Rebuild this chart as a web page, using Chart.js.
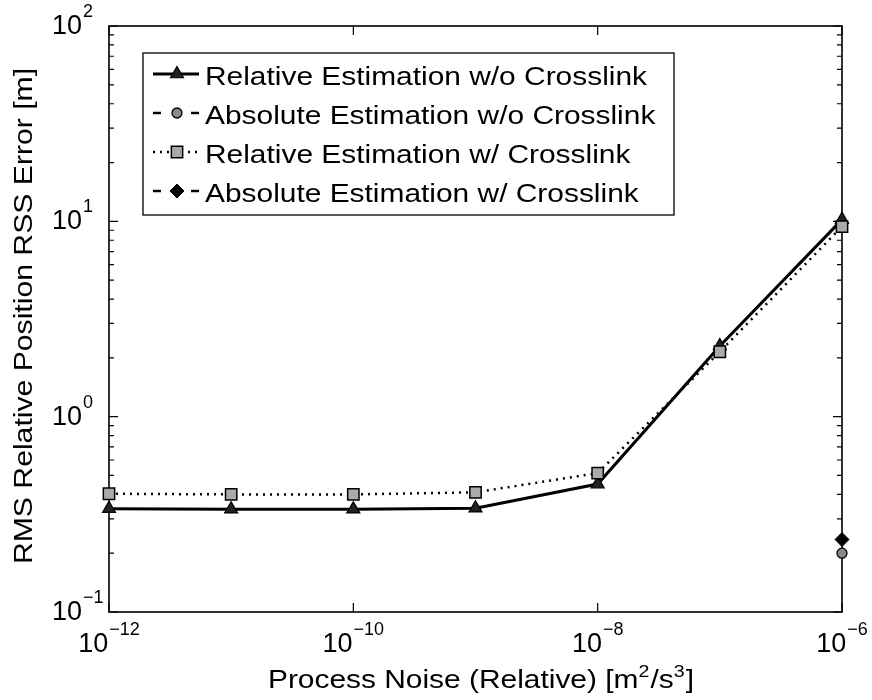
<!DOCTYPE html>
<html><head><meta charset="utf-8">
<script src="https://cdn.jsdelivr.net/npm/chart.js@4.4.1/dist/chart.umd.min.js"></script>
<style>html,body{margin:0;padding:0;background:#fff}canvas{display:block}</style>
</head><body>
<canvas id="c" width="872" height="700"></canvas>
<script>
// ---- data ----
const processNoise = [1e-12, 1e-11, 1e-10, 1e-9, 1e-8, 1e-7, 1e-6];
const relNoCross = [0.338, 0.336, 0.336, 0.340, 0.452, 2.30, 10.2];
const relCross   = [0.403, 0.400, 0.400, 0.410, 0.514, 2.15, 9.4];
const absNoCrossX = [1e-6];
const absNoCross  = [0.20];
const absCrossX = [1e-6];
const absCross  = [0.235];
const seriesLabels = [
  'Relative Estimation w/o Crosslink',
  'Absolute Estimation w/o Crosslink',
  'Relative Estimation w/ Crosslink',
  'Absolute Estimation w/ Crosslink'
];
const xTickExponents = [-12, -10, -8, -6];
const yTickExponents = [-1, 0, 1, 2];
const xTitleParts = [['Process Noise (Relative) [m', 0], ['2', 1], ['/s', 0], ['3', 1], [']', 0]];
const yTitle = 'RMS Relative Position RSS Error [m]';

const FONT = '"Liberation Sans", Arial, Helvetica, sans-serif';
const pts = (xs, ys) => xs.map((x, i) => ({x: x, y: ys[i]}));

const datasets = [
  { label: seriesLabels[0], data: pts(processNoise, relNoCross), showLine: true,
    borderColor: '#000', borderWidth: 3, pointStyle: 'triangle', pointRadius: 7.5,
    pointBackgroundColor: '#222', pointBorderColor: '#000', pointBorderWidth: 1.2, clip: false, order: 2 },
  { label: seriesLabels[1], data: pts(absNoCrossX, absNoCross), showLine: true, borderDash: [7, 5],
    borderColor: '#000', borderWidth: 2.5, pointStyle: 'circle', pointRadius: 5,
    pointBackgroundColor: '#888', pointBorderColor: '#000', pointBorderWidth: 1.3, clip: false, order: 1 },
  { label: seriesLabels[2], data: pts(processNoise, relCross), showLine: true, borderDash: [2, 5],
    borderColor: '#000', borderWidth: 2.5, pointStyle: 'rect', pointRadius: 8,
    pointBackgroundColor: '#aaa', pointBorderColor: '#000', pointBorderWidth: 1.5, clip: false, order: 1 },
  { label: seriesLabels[3], data: pts(absCrossX, absCross), showLine: true, borderDash: [7, 5],
    borderColor: '#000', borderWidth: 2.5, pointStyle: 'rectRot', pointRadius: 7,
    pointBackgroundColor: '#000', pointBorderColor: '#000', pointBorderWidth: 1, clip: false, order: 0 }
];

function drawPow(ctx, exp, x, y, align) {
  const base = '10';
  const sup = exp < 0 ? '\u2212' + Math.abs(exp) : String(exp);
  ctx.font = '27px ' + FONT;
  const wb = ctx.measureText(base).width;
  ctx.font = '18px ' + FONT;
  const ws = ctx.measureText(sup).width;
  const x0 = align === 'center' ? x - (wb + ws + 1) / 2 : x;
  ctx.textAlign = 'left';
  ctx.textBaseline = 'alphabetic';
  ctx.font = '27px ' + FONT;
  ctx.fillText(base, x0, y);
  ctx.font = '18px ' + FONT;
  ctx.fillText(sup, x0 + wb + 1, y - 17);
}

function drawMarker(ctx, ds, x, y) {
  ctx.save();
  ctx.fillStyle = ds.pointBackgroundColor;
  ctx.strokeStyle = ds.pointBorderColor;
  ctx.lineWidth = ds.pointBorderWidth;
  ctx.setLineDash([]);
  Chart.helpers.drawPoint(ctx, {pointStyle: ds.pointStyle, rotation: 0, radius: ds.pointRadius, borderWidth: ds.pointBorderWidth}, x, y);
  ctx.restore();
}

const framePlugin = {
  id: 'frame',
  beforeDatasetsDraw(chart) {
    const ctx = chart.ctx, a = chart.chartArea;
    const xs = chart.scales.x, ys = chart.scales.y;
    ctx.save();
    ctx.strokeStyle = '#000';
    ctx.lineWidth = 1.6;
    ctx.strokeRect(a.left, a.top, a.right - a.left, a.bottom - a.top);
    ctx.lineWidth = 1.2;
    ctx.beginPath();
    for (let e = -1; e <= 2; e++) {
      for (let m = 1; m <= 9; m++) {
        const v = m * Math.pow(10, e);
        if (v > 100 + 1e-9) break;
        const py = ys.getPixelForValue(v);
        const len = m === 1 ? 9 : 5;
        ctx.moveTo(a.left, py); ctx.lineTo(a.left + len, py);
        ctx.moveTo(a.right, py); ctx.lineTo(a.right - len, py);
      }
    }
    xTickExponents.forEach(e => {
      const px = xs.getPixelForValue(Math.pow(10, e));
      ctx.moveTo(px, a.bottom); ctx.lineTo(px, a.bottom - 9);
      ctx.moveTo(px, a.top); ctx.lineTo(px, a.top + 9);
    });
    ctx.stroke();
    ctx.restore();
  },
  afterDraw(chart) {
    const ctx = chart.ctx, a = chart.chartArea;
    const xs = chart.scales.x, ys = chart.scales.y;
    ctx.save();
    ctx.fillStyle = '#000';
    yTickExponents.forEach(e => {
      const py = ys.getPixelForValue(Math.pow(10, e));
      drawPow(ctx, e, 52, py + 8, 'left');
    });
    xTickExponents.forEach(e => {
      const px = xs.getPixelForValue(Math.pow(10, e));
      drawPow(ctx, e, px, a.bottom + 40, 'center');
    });
    // x title
    const sx = 1.15;
    let total = 0;
    xTitleParts.forEach(([t, s]) => {
      ctx.font = (s ? '17px ' : '26px ') + FONT;
      total += ctx.measureText(t).width + (s ? 1 : 0);
    });
    ctx.save();
    ctx.translate(481 - total * sx / 2, 688);
    ctx.scale(sx, 1);
    ctx.textAlign = 'left'; ctx.textBaseline = 'alphabetic';
    let cx = 0;
    xTitleParts.forEach(([t, s]) => {
      ctx.font = (s ? '17px ' : '26px ') + FONT;
      ctx.fillText(t, cx, s ? -11 : 0);
      cx += ctx.measureText(t).width + (s ? 1 : 0);
    });
    ctx.restore();
    // y title
    ctx.save();
    ctx.translate(32, 316);
    ctx.rotate(-Math.PI / 2);
    ctx.scale(1.16, 1);
    ctx.font = '26px ' + FONT;
    ctx.textAlign = 'center'; ctx.textBaseline = 'alphabetic';
    ctx.fillText(yTitle, 0, 0);
    ctx.restore();

    // legend
    const L = 143, T = 53, R = 674, B = 215;
    ctx.fillStyle = '#fff';
    ctx.fillRect(L, T, R - L, B - T);
    ctx.strokeStyle = '#000';
    ctx.lineWidth = 1.3;
    ctx.strokeRect(L, T, R - L, B - T);
    chart.data.datasets.forEach((ds, i) => {
      const cy = 76 + i * 39;
      const ly = cy - 2;
      ctx.save();
      ctx.strokeStyle = ds.borderColor;
      ctx.lineWidth = ds.borderWidth;
      const dash = ds.borderDash || [];
      ctx.beginPath();
      if (dash.length && dash[0] >= 6) {
        ctx.setLineDash([]);
        ctx.moveTo(153, ly); ctx.lineTo(161, ly);
        ctx.moveTo(191, ly); ctx.lineTo(199, ly);
      } else {
        ctx.setLineDash(dash);
        ctx.moveTo(153, ly); ctx.lineTo(199, ly);
      }
      ctx.stroke();
      ctx.restore();
      drawMarker(ctx, ds, 177, ly);
      ctx.save();
      ctx.fillStyle = '#000';
      ctx.translate(205, cy + 9);
      ctx.scale(1.15, 1);
      ctx.font = '26px ' + FONT;
      ctx.textAlign = 'left'; ctx.textBaseline = 'alphabetic';
      ctx.fillText(ds.label, 0, 0);
      ctx.restore();
    });
    ctx.restore();
  }
};

new Chart(document.getElementById('c').getContext('2d'), {
  type: 'scatter',
  data: { datasets: datasets },
  options: {
    responsive: false,
    animation: false,
    layout: { padding: { left: 109, right: 30, top: 26, bottom: 88 } },
    plugins: { legend: { display: false }, tooltip: { enabled: false } },
    scales: {
      x: { type: 'logarithmic', min: 1e-12, max: 1e-6, display: false },
      y: { type: 'logarithmic', min: 0.1, max: 100, display: false }
    }
  },
  plugins: [framePlugin]
});
</script>
</body></html>
